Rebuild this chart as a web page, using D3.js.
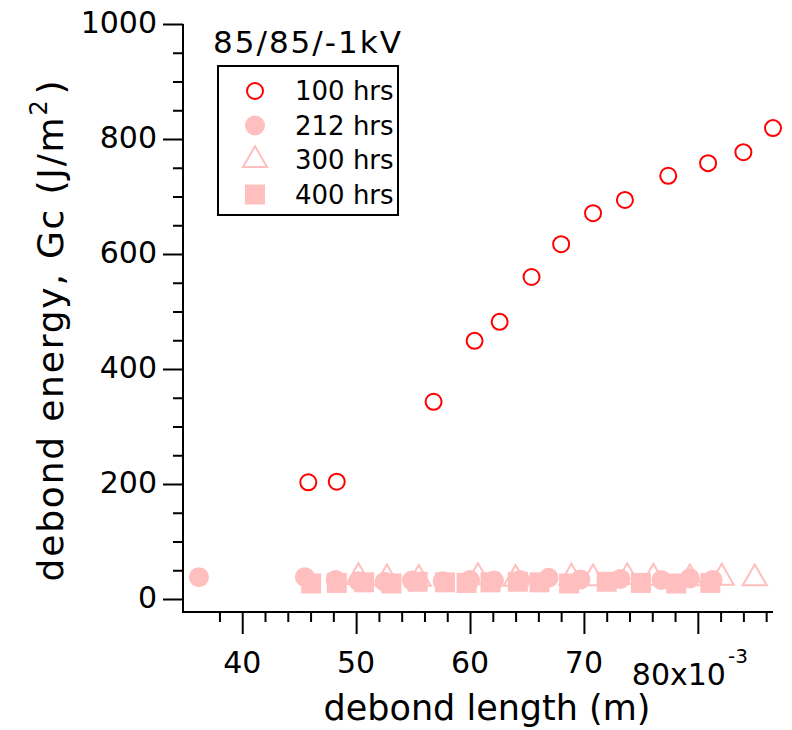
<!DOCTYPE html>
<html>
<head>
<meta charset="utf-8">
<script src="https://cdn.jsdelivr.net/npm/d3@7"></script>
<style>
  body { margin: 0; background: #fff; }
  text { font-family: "DejaVu Sans", sans-serif; fill: #000; }
</style>
</head>
<body>
<script>
// debond length in units of 1e-3 m, energy in J/m^2
var hrs100_x = [45.8, 48.3, 56.8, 60.4, 62.6, 65.4, 68.0, 70.8, 73.6, 77.4, 80.9, 84.0, 86.6];
var hrs100_y = [203, 204, 343, 449, 482, 560, 617, 671, 694, 736, 758, 777, 819];

var hrs212_x = [36.2, 45.5, 48.2, 50.2, 52.5, 54.9, 57.6, 60.0, 62.1, 64.4, 66.9, 69.7, 73.2, 76.8, 79.3, 81.3];
var hrs212_y = [38, 38, 33, 31, 30, 32, 31, 33, 32, 33, 37, 34, 35, 33, 36, 33];

var hrs300_x = [50.2, 52.7, 55.5, 60.7, 64.0, 68.9, 70.8, 73.8, 76.1, 79.3, 82.1, 85.0];
var hrs300_y = [38, 36, 35, 38, 35, 37, 36, 38, 37, 36, 37, 36];

var hrs400_x = [46.05, 48.3, 50.7, 53.1, 55.4, 57.8, 59.7, 61.8, 64.2, 66.1, 68.7, 72.0, 75.0, 78.1, 81.1];
var hrs400_y = [27, 28, 29, 27, 30, 29, 28, 29, 30, 29, 27, 30, 28, 27, 28];

var series = ["100 hrs", "212 hrs", "300 hrs", "400 hrs"];
var xTicks = [40, 50, 60, 70];
var yTicks = [0, 200, 400, 600, 800, 1000];

var red = "#ff0000", pink = "#ffbfbf";

var svg = d3.select("body").append("svg")
    .attr("width", 792)
    .attr("height", 730);

var x = d3.scaleLinear().domain([34.8, 86.6]).range([183, 773]);
var y = d3.scaleLinear().domain([-22.6, 1000]).range([612, 24]);

// y axis
var yAxis = svg.append("g").attr("transform", "translate(183,0)");
yAxis.call(d3.axisLeft(y).tickValues(d3.range(0, 1001, 50)).tickSize(10).tickFormat(""));
yAxis.call(function(g) {
    g.selectAll(".tick line").attr("stroke-width", 2)
        .attr("x2", function(d) { return d % 200 === 0 ? -20 : -10; });
    g.select(".domain").remove();
});
svg.append("line").attr("x1", 183).attr("x2", 183).attr("y1", 24).attr("y2", 613)
    .attr("stroke", "#000").attr("stroke-width", 2);
svg.selectAll(".ylab").data(yTicks).enter().append("text")
    .attr("class", "ylab")
    .attr("x", 157)
    .attr("y", function(d) { return y(d) - 2; })
    .attr("text-anchor", "end")
    .attr("dominant-baseline", "central")
    .style("font-size", "30px")
    .text(function(d) { return d; });

// x axis
var xAxis = svg.append("g").attr("transform", "translate(0,612)");
xAxis.call(d3.axisBottom(x).tickValues(d3.range(38, 87, 2)).tickSize(10).tickFormat(""));
xAxis.call(function(g) {
    g.selectAll(".tick line").attr("stroke-width", 2)
        .attr("y2", function(d) { return d % 10 === 0 ? 22 : 10; });
    g.select(".domain").remove();
});
svg.append("line").attr("x1", 182).attr("x2", 773).attr("y1", 612).attr("y2", 612)
    .attr("stroke", "#000").attr("stroke-width", 2);
svg.selectAll(".xlab").data(xTicks).enter().append("text")
    .attr("class", "xlab")
    .attr("x", function(d) { return x(d); })
    .attr("y", 673)
    .attr("text-anchor", "middle")
    .style("font-size", "30px")
    .text(function(d) { return d; });
var last = svg.append("text").attr("x", x(80) - 66).attr("y", 685)
    .attr("text-anchor", "start").style("font-size", "30px");
last.append("tspan").text("80x10");
last.append("tspan").attr("dx", 2).attr("dy", -22).style("font-size", "20px").text("-3");

// axis titles
svg.append("text").attr("x", 487).attr("y", 720)
    .attr("text-anchor", "middle").style("font-size", "35px")
    .text("debond length (m)");
var yt = svg.append("text")
    .attr("transform", "translate(63,330) rotate(-90)")
    .attr("text-anchor", "middle").style("font-size", "36px")
    .style("letter-spacing", "1.8px");
yt.append("tspan").text("debond energy, Gc (J/m");
yt.append("tspan").attr("dy", -16).style("font-size", "24px").text("2");
yt.append("tspan").attr("dy", 16).attr("dx", 4).text(")");

// markers
function pts(xs, ys) {
    return xs.map(function(d, i) { return [d, ys[i]]; });
}
var tri = d3.symbol().type(d3.symbolTriangle).size(250);

svg.append("g").selectAll("path").data(pts(hrs300_x, hrs300_y)).enter().append("path")
    .attr("d", tri)
    .attr("transform", function(d) { return "translate(" + x(d[0]) + "," + y(d[1]) + ")"; })
    .attr("fill", "none").attr("stroke", pink).attr("stroke-width", 2);

svg.append("g").selectAll("rect").data(pts(hrs400_x, hrs400_y)).enter().append("rect")
    .attr("x", function(d) { return x(d[0]) - 10; })
    .attr("y", function(d) { return y(d[1]) - 10; })
    .attr("width", 20).attr("height", 20)
    .attr("fill", pink);

svg.append("g").selectAll("circle").data(pts(hrs212_x, hrs212_y)).enter().append("circle")
    .attr("cx", function(d) { return x(d[0]); })
    .attr("cy", function(d) { return y(d[1]); })
    .attr("r", 10)
    .attr("fill", pink);

svg.append("g").selectAll("circle").data(pts(hrs100_x, hrs100_y)).enter().append("circle")
    .attr("cx", function(d) { return x(d[0]); })
    .attr("cy", function(d) { return y(d[1]); })
    .attr("r", 8)
    .attr("fill", "none").attr("stroke", red).attr("stroke-width", 2);

// title + legend
svg.append("text").attr("x", 213).attr("y", 53).style("font-size", "31px")
    .style("letter-spacing", "2px").text("85/85/-1kV");

svg.append("rect").attr("x", 218).attr("y", 66).attr("width", 180).attr("height", 149)
    .attr("fill", "#fff").attr("stroke", "#000").attr("stroke-width", 2);

var leg = svg.append("g").selectAll("g").data(series).enter().append("g")
    .attr("transform", function(d, i) { return "translate(255," + (91 + i * 34.5) + ")"; });
leg.each(function(d, i) {
    var g = d3.select(this);
    if (i === 0) g.append("circle").attr("r", 8).attr("fill", "none").attr("stroke", red).attr("stroke-width", 2);
    if (i === 1) g.append("circle").attr("r", 10).attr("fill", pink);
    if (i === 2) g.append("path").attr("d", tri).attr("fill", "none").attr("stroke", pink).attr("stroke-width", 2);
    if (i === 3) g.append("rect").attr("x", -10).attr("y", -10).attr("width", 20).attr("height", 20).attr("fill", pink);
});
leg.append("text").attr("x", 40).attr("y", 0)
    .attr("dominant-baseline", "central")
    .style("font-size", "26px")
    .text(function(d) { return d; });
</script>
</body>
</html>
